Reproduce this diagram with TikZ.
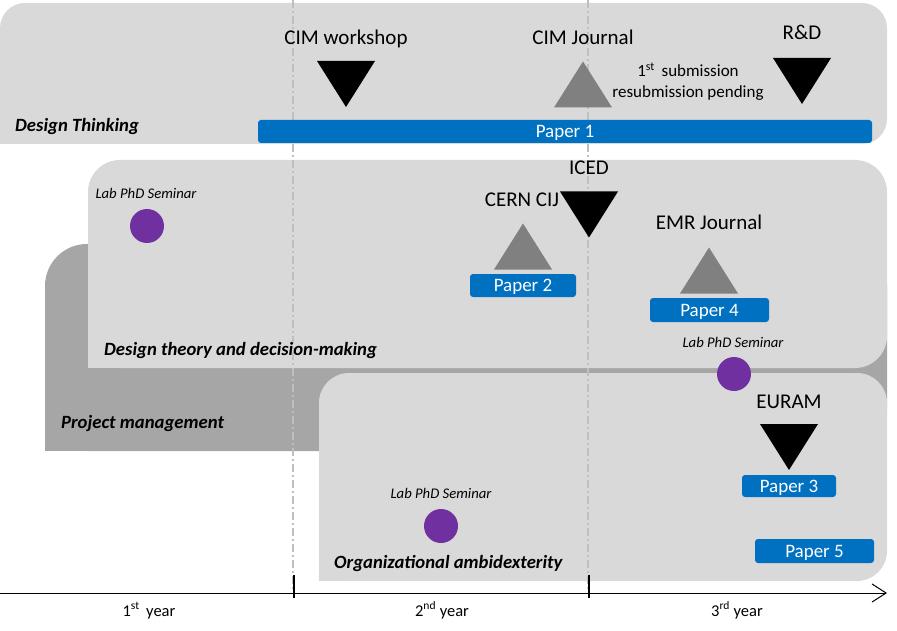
\documentclass[tikz,border=0pt]{standalone}
\usepackage{fontspec}
\setmainfont{Carlito}
\usetikzlibrary{arrows.meta}
\definecolor{lgray}{HTML}{D9D9D9}
\definecolor{dgray}{HTML}{A6A6A6}
\definecolor{pblue}{HTML}{0070C0}
\definecolor{tgray}{HTML}{808080}
\definecolor{ppurple}{HTML}{7030A0}
\definecolor{vline}{HTML}{BFBFBF}
\begin{document}
\begin{tikzpicture}[x=1pt,y=-1pt,
  evt/.style={inner sep=0pt, anchor=base, font=\fontsize{21}{25}\selectfont},
  paper/.style={fill=pblue, rounded corners=3pt, text=white, inner sep=0pt, text height=12.2pt, text depth=0pt, font=\fontsize{19}{23}\selectfont},
  seminar/.style={inner sep=0pt, anchor=base, font=\fontsize{14.7}{17}\selectfont\itshape},
  dot/.style={circle, fill=ppurple, minimum size=34pt, inner sep=0pt},
  area/.style={inner sep=0pt, anchor=base west, font=\fontsize{18.7}{22}\selectfont\bfseries\itshape},
  yearlbl/.style={inner sep=0pt, anchor=base, font=\fontsize{16.5}{19}\selectfont},
  sep/.style={vline, line width=1.5pt, dash pattern=on 8pt off 3pt on 2pt off 3pt},
  downtri/.pic={\fill[black] (-29,-23) -- (29,-23) -- (0,23) -- cycle;},
  uptri/.pic={\fill[tgray] (0,-23) -- (29,23) -- (-29,23) -- cycle;}
]
\useasboundingbox (0,0) rectangle (897,631);
% Design Thinking area
\fill[lgray, rounded corners=25pt] (0,3) rectangle (887,144);
\fill[lgray] (0,110) rectangle (40,144);
% Project management area
\fill[dgray, rounded corners=42pt] (45,244) rectangle (887,451);
\fill[dgray] (45,400) rectangle (100,451);
% Design theory area
\fill[lgray, rounded corners=32pt] (88,160) rectangle (887,368);
\fill[lgray] (88,320) rectangle (140,368);
% Organizational ambidexterity area
\fill[lgray, rounded corners=30pt] (319,373) rectangle (887,581);
\fill[lgray] (319,540) rectangle (360,581);
% year separators
\coordinate (s1t) at (293,0); \coordinate (s1b) at (293,590);
\coordinate (s2t) at (588,0); \coordinate (s2b) at (588,590);
\draw[sep] (s1t) -- (s1b);
\draw[sep] (s2t) -- (s2b);
% area labels
\node[area] (lDT) at (15,132) {Design Thinking};
\node[area] (lDTD) at (104,355) {Design theory and decision-making};
\node[area] (lPM) at (61,428) {Project management};
\node[area] (lOA) at (334,568) {Organizational ambidexterity};
% Design Thinking events
\node[paper, minimum width=614pt, minimum height=23pt] (p1) at (565,131.5) {Paper 1};
\node[evt] (tcimw) at (346,45) {CIM workshop};
\pic at (346,84) {downtri};
\node[evt] (tcimj) at (583,45) {CIM Journal};
\pic at (583,84.5) {uptri};
\node[inner sep=0pt, align=center, font=\fontsize{17}{21}\selectfont] (tsub) at (688,82) {1\textsuperscript{st}\, submission\\resubmission pending};
\node[evt] (trd) at (802,40) {R\&D};
\pic at (802,81) {downtri};
% Design theory events
\node[seminar] (ts1) at (146,199) {Lab PhD Seminar};
\node[dot] (d1) at (147,226) {};
\node[evt] (tcern) at (522,207) {CERN CIJ};
\pic at (523,246.5) {uptri};
\node[paper, minimum width=106pt, minimum height=23pt] (p2) at (523,285.5) {Paper 2};
\node[evt] (ticed) at (589,175) {ICED};
\pic at (589,214.5) {downtri};
\node[evt] (temr) at (709,230) {EMR Journal};
\pic at (709,270.5) {uptri};
\node[paper, minimum width=119pt, minimum height=24pt] (p4) at (709.5,310) {Paper 4};
\node[seminar] (ts2) at (733,347) {Lab PhD Seminar};
\node[dot] (d2) at (734,374) {};
% Organizational ambidexterity events
\node[evt] (teuram) at (789,408) {EURAM};
\pic at (789,447) {downtri};
\node[paper, minimum width=94pt, minimum height=22pt] (p3) at (789,486) {Paper 3};
\node[paper, minimum width=119pt, minimum height=24pt] (p5) at (814.5,551) {Paper 5};
\node[seminar] (ts3) at (441,498) {Lab PhD Seminar};
\node[dot] (d3) at (441,526) {};
% time axis
\coordinate (axL) at (0,593);
\coordinate (axR) at (887,593);
\draw[line width=1pt, -{Straight Barb[length=14pt, width=18pt, line width=1pt]}] (axL) -- (axR);
\coordinate (k1t) at (294,575); \coordinate (k1b) at (294,598);
\coordinate (k2t) at (589,575); \coordinate (k2b) at (589,598);
\draw[line width=1.8pt] (k1t) -- (k1b);
\draw[line width=1.8pt] (k2t) -- (k2b);
\node[yearlbl] (y1) at (149,616) {1\textsuperscript{st}\, year};
\node[yearlbl] (y2) at (442,616) {2\textsuperscript{nd} year};
\node[yearlbl] (y3) at (737,616) {3\textsuperscript{rd} year};
\end{tikzpicture}
\end{document}
